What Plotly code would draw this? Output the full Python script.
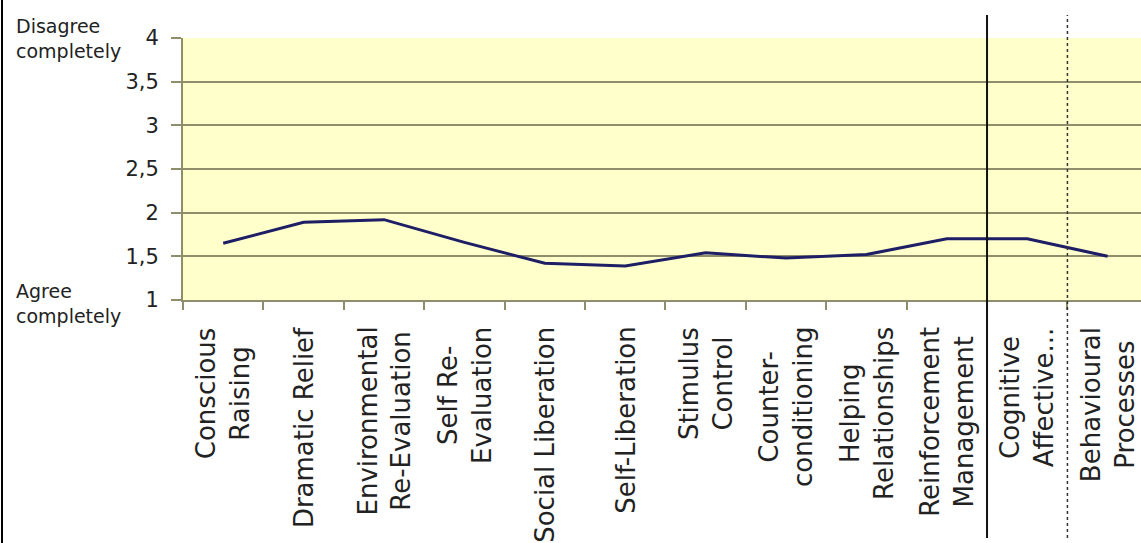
import plotly.graph_objects as go

# Processes of change (category labels, line breaks as drawn under the axis)
categories = [
    "Conscious<br>Raising",
    "Dramatic Relief",
    "Environmental<br>Re-Evaluation",
    "Self Re-<br>Evaluation",
    "Social Liberation",
    "Self-Liberation",
    "Stimulus<br>Control",
    "Counter-<br>conditioning",
    "Helping<br>Relationships",
    "Reinforcement<br>Management",
    "Cognitive<br>Affective...",
    "Behavioural<br>Processes",
]

# Mean agreement score (1 = agree completely, 4 = disagree completely)
scores = [1.65, 1.89, 1.92, 1.66, 1.42, 1.39, 1.54, 1.48, 1.52, 1.70, 1.70, 1.50]

y_tickvals = [1, 1.5, 2, 2.5, 3, 3.5, 4]
y_ticktext = ["1", "1,5", "2", "2,5", "3", "3,5", "4"]

W, H = 1141, 543
ML, MR, MT, MB = 183, 0, 38, 243
PW, PH = W - ML - MR, H - MT - MB


def px_x(px):
    return (px - ML) / PW


def px_y(py):
    return (H - MB - py) / PH


grid_col = "#8e8e6c"
text_col = "#222222"

fig = go.Figure()
fig.add_trace(go.Scatter(
    x=categories, y=scores, mode="lines",
    line=dict(color="#1e1e66", width=3),
    showlegend=False, hoverinfo="skip",
))

# category labels, rotated and centred line by line
for cat in categories:
    fig.add_annotation(
        x=cat, xref="x", y=px_y(325), yref="paper",
        text=cat, textangle=-90, showarrow=False,
        xanchor="center", yanchor="top", align="center",
        font=dict(family="DejaVu Sans", size=26, color=text_col),
    )

# scale end descriptions
fig.add_annotation(
    x=px_x(14), xref="paper", y=px_y(39), yref="paper",
    text="Disagree<br>completely", showarrow=False, align="left",
    xanchor="left", yanchor="middle",
    font=dict(family="DejaVu Sans", size=19, color=text_col),
)
fig.add_annotation(
    x=px_x(14), xref="paper", y=px_y(303), yref="paper",
    text="Agree<br>completely", showarrow=False, align="left",
    xanchor="left", yanchor="middle",
    font=dict(family="DejaVu Sans", size=19, color=text_col),
)

# group separators
fig.add_shape(type="line", xref="x", yref="paper",
              x0=9.5, x1=9.5, y0=px_y(538), y1=px_y(15),
              line=dict(color="#111111", width=2))
fig.add_shape(type="line", xref="x", yref="paper",
              x0=10.5, x1=10.5, y0=px_y(538), y1=px_y(15),
              line=dict(color="#333333", width=1.5, dash="dot"))

# left frame edge
fig.add_shape(type="line", xref="paper", yref="paper",
              x0=px_x(2), x1=px_x(2), y0=px_y(H), y1=px_y(0),
              line=dict(color="#000000", width=2))

fig.update_layout(
    width=W, height=H,
    margin=dict(l=ML, r=MR, t=MT, b=MB, pad=0),
    paper_bgcolor="#ffffff",
    plot_bgcolor="#ffffcc",
    xaxis=dict(
        type="category", categoryorder="array", categoryarray=categories,
        range=[-0.5, 11.415], showgrid=False, zeroline=False,
        showline=True, linecolor=grid_col, linewidth=2,
        ticks="outside", tickson="boundaries", ticklen=8,
        tickcolor=grid_col, tickwidth=1.5, showticklabels=False,
    ),
    yaxis=dict(
        range=[1, 4], tickvals=y_tickvals, ticktext=y_ticktext,
        showgrid=True, gridcolor=grid_col, gridwidth=2,
        zeroline=False, showline=True, linecolor=grid_col, linewidth=2,
        ticks="outside", ticklen=10, tickcolor=grid_col, tickwidth=1.5,
        ticklabelstandoff=8,
        tickfont=dict(family="DejaVu Sans", size=21, color=text_col),
    ),
)

fig.write_html("out.html")
